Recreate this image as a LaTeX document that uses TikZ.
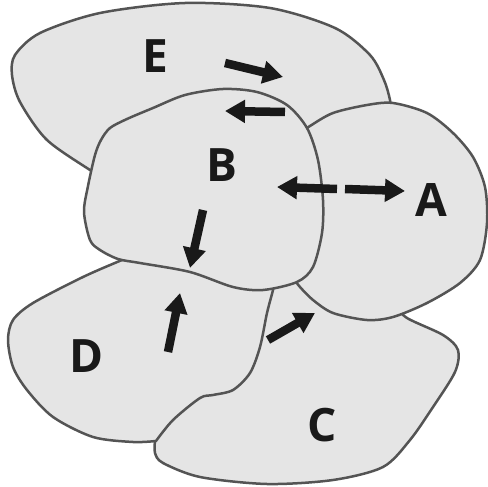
\documentclass[tikz,border=0pt]{standalone}
\usepackage{fontspec}
\setmainfont{Open Sans}
\usetikzlibrary{arrows.meta}

\begin{document}
\begin{tikzpicture}[x=1pt,y=-1pt,>={Triangle[length=20pt,width=22pt]}]
        \tikzstyle{region}=[fill=gray!20,draw=black!67,line width=2.5pt,line join=round]
        \tikzstyle{region label}=[text=black!90,font=\fontsize{46}{46}\selectfont\bfseries,inner sep=0pt]
        \tikzstyle{move}=[->,line width=8.5pt,draw=black!90]
        \useasboundingbox (0,0) rectangle (488,487);

        % E, at the back
        \path[region] plot[smooth] coordinates {(392,118) (390,100) (384,80) (370,55) (335,28)
            (270,8) (185,3) (100,13) (40,33) (15,55) (12,75) (20,102) (47,140) (93,172) (105,180)}
            -- (200,140) -- (330,140) -- cycle;

        % C
        \path[region] plot[smooth] coordinates {(155,441) (155,453) (163,463) (200,477) (267,484)
            (333,480) (383,467) (410,440) (433,407) (455,372) (458,350) (443,335) (407,318) (395,305)}
            -- (380,280) -- (290,270) -- (250,280) -- (240,330) -- cycle;

        % D
        \path[region] plot[smooth] coordinates {(274,282) (273,290) (267,313) (260,347) (250,373)
            (233,390) (213,395) (200,398) (173,420) (156,441)}
            -- plot[smooth] coordinates {(156,441) (133,442) (93,437) (53,417) (27,390) (13,367)
            (8,340) (13,320) (33,303) (83,277) (122,260) (135,255)}
            -- (260,280) -- cycle;

        % A
        \path[region] plot[smooth] coordinates {(300,133) (310,126) (333,113) (367,105) (393,103)
            (427,113) (453,133) (473,157) (485,187) (487,223) (480,260) (460,283) (427,303)
            (393,317) (367,320) (333,313) (313,300) (300,287) (293,278)}
            -- (250,200) -- cycle;

        % B, in front
        \path[region] plot[smooth cycle] coordinates {(110,128) (127,119) (153,108) (185,95)
            (223,89) (257,92) (287,105) (307,128) (318,160) (323,200) (322,233) (313,267)
            (297,282) (263,290) (233,287) (190,272) (140,263) (118,259) (100,250) (90,240)
            (84,212) (88,186) (95,155) (101,140)};

        \node[region label] (A) at (431,200) {A};
        \node[region label] (B) at (222,165) {B};
        \node[region label] (C) at (322,425) {C};
        \node[region label] (D) at (87,356)  {D};
        \node[region label] (E) at (155,56)  {E};

        \coordinate (E out) at (225,63);   \coordinate (E to B) at (283,77);
        \coordinate (B out) at (285,112);  \coordinate (B to E) at (225,111);
        \coordinate (A out) at (337,189);  \coordinate (A to B) at (277,187);
        \coordinate (B mid) at (345,189);  \coordinate (B to A) at (405,191);
        \coordinate (B down) at (203,210); \coordinate (B to D) at (190,268);
        \coordinate (D out) at (168,352);  \coordinate (D to B) at (180,293);
        \coordinate (C out) at (268,340);  \coordinate (C to A) at (315,313);

        \draw[move] (E out) -- (E to B);
        \draw[move] (B out) -- (B to E);
        \draw[move] (A out) -- (A to B);
        \draw[move] (B mid) -- (B to A);
        \draw[move] (B down) -- (B to D);
        \draw[move] (D out) -- (D to B);
        \draw[move] (C out) -- (C to A);
      \end{tikzpicture}
\end{document}
